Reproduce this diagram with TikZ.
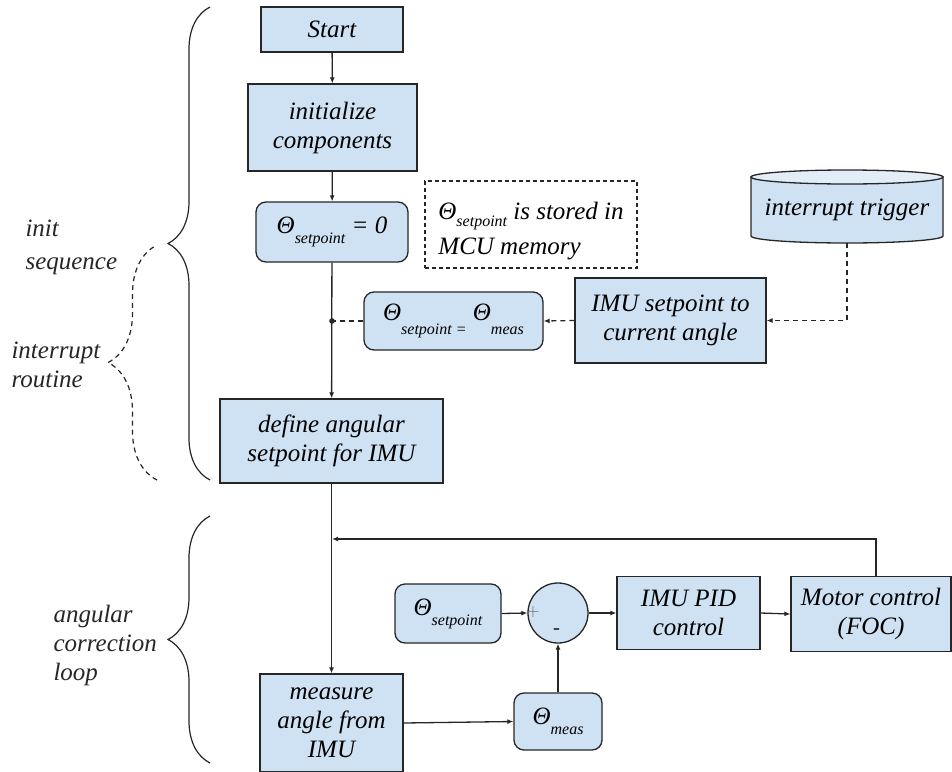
\documentclass[tikz,border=0pt]{standalone}
\usepackage{fontspec}
\newfontfamily\flowfont{Liberation Serif}
\usetikzlibrary{arrows.meta,decorations.pathreplacing,calc}
\definecolor{boxfill}{HTML}{CFE2F3}
\definecolor{capfill}{HTML}{E3EDF8}
\definecolor{ink}{HTML}{262626}
% lowered subscript in the style of the flowchart's equation labels
\newcommand\lowsub[2][10pt]{\raisebox{-#1}{\fontsize{16}{16}\selectfont #2}}

\begin{document}
\begin{tikzpicture}[x=1pt,y=-1pt,
  font=\flowfont\fontsize{25}{29}\selectfont\itshape,
  block/.style={draw=ink, line width=1.3pt, fill=boxfill, align=center, inner sep=2pt},
  rblock/.style={block, rounded corners=10pt},
  link/.style={draw=ink, line width=1.3pt, -{Latex[length=6pt,width=5pt]}},
  dlink/.style={link, dash pattern=on 5pt off 4pt},
  sidetext/.style={align=left, anchor=west, text=ink},
  curly/.style={decorate, decoration={brace, amplitude=#1}, draw=ink, line width=1.2pt},
]
\useasboundingbox (0,0) rectangle (952,771);

% ---- main flow
\node[block, minimum width=142, minimum height=45] (start) at (332,29.5) {Start};
\node[block, minimum width=169, minimum height=87] (init) at (332.5,127.5) {initialize\\components};
\node[rblock, minimum width=152, minimum height=60] (th0) at (332,232) {Θ\lowsub{setpoint} = 0};
\node[draw=ink, line width=1.1pt, dash pattern=on 4pt off 3pt, align=left, minimum width=212, minimum height=87]
  (note) at (531,224.5) {\rule{0pt}{30pt}Θ\lowsub[7pt]{setpoint} is stored in\\[6pt]MCU memory};
\node[rblock, minimum width=179, minimum height=58] (theq) at (453.5,321) {Θ\lowsub[14pt]{setpoint =} Θ\lowsub[14pt]{meas}};
\node[block, minimum width=191, minimum height=85] (imu) at (670.5,320.5) {IMU setpoint to\\current angle};
\node[block, minimum width=223, minimum height=84] (define) at (331.5,441) {define angular\\setpoint for IMU};

% ---- interrupt trigger (cylinder)
\path[draw=ink, line width=1.3pt, fill=boxfill]
  (751,177) -- (751,236) arc[start angle=180, end angle=0, x radius=96, y radius=7] -- (943,177) -- cycle;
\path[draw=ink, line width=1.3pt, fill=capfill] (847,177) ellipse [x radius=96, y radius=7];
\node[minimum width=192, minimum height=66] (trig) at (847,210) {interrupt trigger};

% ---- correction loop
\node[block, minimum width=143, minimum height=98] (measure) at (331.5,723) {measure\\angle from\\IMU};
\node[rblock, minimum width=106, minimum height=59] (ths) at (448,613.5) {Θ\lowsub{setpoint}};
\node[draw=ink, line width=1.3pt, fill=boxfill, circle, minimum size=60, inner sep=0pt] (sum) at (558,613) {};
\node[text=black!60, font=\fontsize{18}{18}\selectfont] (plus) at (533,612) {+};
\node[text=ink, font=\fontsize{18}{18}\selectfont\bfseries] (minus) at (557,631) {-};
\node[block, minimum width=143, minimum height=73] (pid) at (688.5,613) {IMU PID\\control};
\node[block, minimum width=160, minimum height=75] (motor) at (871,614) {Motor control\\(FOC)};
\node[rblock, minimum width=88, minimum height=57] (thm) at (558,721.5) {Θ\lowsub{meas}};

% ---- connectors
\coordinate (jn) at (th0.south |- theq.west);
\coordinate (fb) at (332,539);
\draw[link] (start) -- (init);
\draw[link] (init) -- (th0);
\draw[link] (th0) -- (define);
\draw[dlink] (trig.south) |- (imu.east);
\draw[dlink] (imu.west) -- (theq.east);
\draw[draw=ink, line width=1.3pt, dash pattern=on 5pt off 4pt] (theq.west) -- (jn);
\fill[ink] (jn) circle (2.8);
\draw[link] (define.south) -- (measure.north);
\draw[link] (measure.east) -- (thm.west);
\draw[link] (thm.north) -- (sum.south);
\draw[link] (ths.east) -- (sum.west);
\draw[link] (sum.east) -- (pid.west);
\draw[link] (pid.east) -- (motor.west);
\draw[link] ([xshift=5pt]motor.north) |- (fb);

% ---- section braces and their captions
\draw[curly=42pt] (210,480) -- (210,7);
\draw[curly=49pt, dash pattern=on 5pt off 4pt] (157,480) -- (157,245);
\draw[curly=42pt] (210,763) -- (210,516);
\node[sidetext] (lblinit) at (22,247) {init\\[4pt]sequence};
\node[sidetext] (lblint) at (8,365) {interrupt\\routine};
\node[sidetext] (lblloop) at (50,645) {angular\\correction\\loop};
\end{tikzpicture}
\end{document}
